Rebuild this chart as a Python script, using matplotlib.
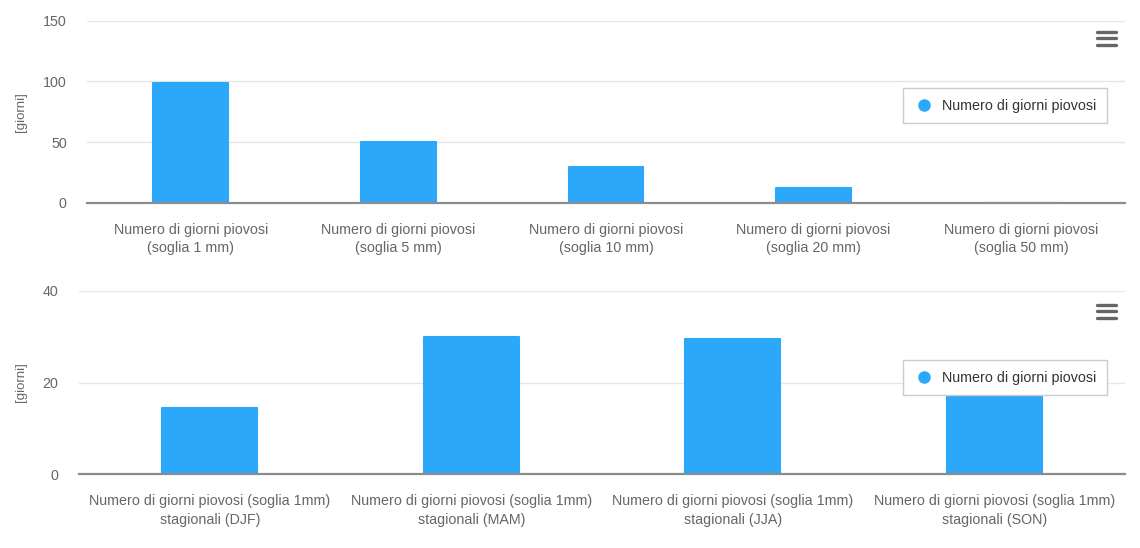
import matplotlib
matplotlib.use("Agg")
import matplotlib.pyplot as plt
from matplotlib.lines import Line2D

plt.rcParams['font.family'] = ['Liberation Sans', 'DejaVu Sans']

# Annual rainy days by threshold
soglie_labels = [
    "Numero di giorni piovosi\n(soglia 1 mm)",
    "Numero di giorni piovosi\n(soglia 5 mm)",
    "Numero di giorni piovosi\n(soglia 10 mm)",
    "Numero di giorni piovosi\n(soglia 20 mm)",
    "Numero di giorni piovosi\n(soglia 50 mm)",
]
soglie_values = [99, 50, 29, 12, 0]

# Seasonal rainy days (1 mm threshold)
stagioni_labels = [
    "Numero di giorni piovosi (soglia 1mm)\nstagionali (DJF)",
    "Numero di giorni piovosi (soglia 1mm)\nstagionali (MAM)",
    "Numero di giorni piovosi (soglia 1mm)\nstagionali (JJA)",
    "Numero di giorni piovosi (soglia 1mm)\nstagionali (SON)",
]
stagioni_values = [14.5, 30, 29.4, 19]

series_name = "Numero di giorni piovosi"
y_label = "[giorni]"

BAR = "#2ba8f9"
TXT = "#666666"
GRID = "#e6e6e6"
AXIS = "#8c8c8c"
FS = 10.3
W, H = 1140, 548

fig = plt.figure(figsize=(W / 100, H / 100), dpi=100)


def px_axes(left, right, top_px, bottom_px):
    return fig.add_axes([left / W, 1 - bottom_px / H, (right - left) / W, (bottom_px - top_px) / H])


def style(ax, labels, values, ymax, yticks, bar_frac, ylabel_x, ypad):
    x = list(range(len(values)))
    ax.bar(x, values, width=bar_frac, color=BAR, edgecolor=BAR, linewidth=1.5,
           joinstyle='round', zorder=2, label=series_name)
    ax.set_xlim(-0.5, len(values) - 0.5)
    ax.set_ylim(0, ymax)
    ax.set_yticks(yticks)
    ax.set_xticks(x)
    ax.set_xticklabels(labels, fontsize=FS, color=TXT, linespacing=1.38)
    ax.tick_params(axis='both', length=0, labelsize=FS, colors=TXT)
    ax.tick_params(axis='y', pad=ypad)
    ax.tick_params(axis='x', pad=14.5)
    for s in ['top', 'right', 'left']:
        ax.spines[s].set_visible(False)
    ax.spines['bottom'].set_color(AXIS)
    ax.spines['bottom'].set_linewidth(1.6)
    ax.spines['bottom'].set_zorder(3)
    ax.yaxis.grid(True, color=GRID, linewidth=1)
    ax.set_axisbelow(True)
    ax.set_ylabel(y_label, fontsize=9.5, color=TXT)
    ax.yaxis.set_label_coords(ylabel_x, 0.5)


def legend(ax, top_px):
    h = [Line2D([], [], marker='o', linestyle='none', markersize=8,
                markerfacecolor=BAR, markeredgecolor=BAR)]
    lg = ax.legend(h, [series_name], loc='upper left',
                   bbox_to_anchor=(903 / W, 1 - top_px / H), bbox_transform=fig.transFigure,
                   frameon=True, fancybox=False, edgecolor='#cccccc', framealpha=1,
                   fontsize=FS, borderpad=0.75, handletextpad=0.45, handlelength=1.5,
                   borderaxespad=0)
    lg.get_frame().set_linewidth(1)
    lg.set_zorder(5)
    for t in lg.get_texts():
        t.set_color('#333333')


def menu_icon(y_px):
    for dy in (0, 6.3, 12.6):
        yy = 1 - (y_px + dy) / H
        fig.add_artist(Line2D([1097 / W, 1116 / W], [yy, yy], color=TXT,
                              linewidth=2.4, solid_capstyle='round'))


ax1 = px_axes(87, 1125, 21, 202.5)
style(ax1, soglie_labels, soglie_values, 150, [0, 50, 100, 150], 0.36, -0.058, 14.5)
legend(ax1, 88)
menu_icon(32)

ax2 = px_axes(79, 1125, 290.7, 474.3)
style(ax2, stagioni_labels, stagioni_values, 40, [0, 20, 40], 0.363, -0.05, 15)
legend(ax2, 360)
menu_icon(305)

fig.savefig("out.png", dpi=100)
